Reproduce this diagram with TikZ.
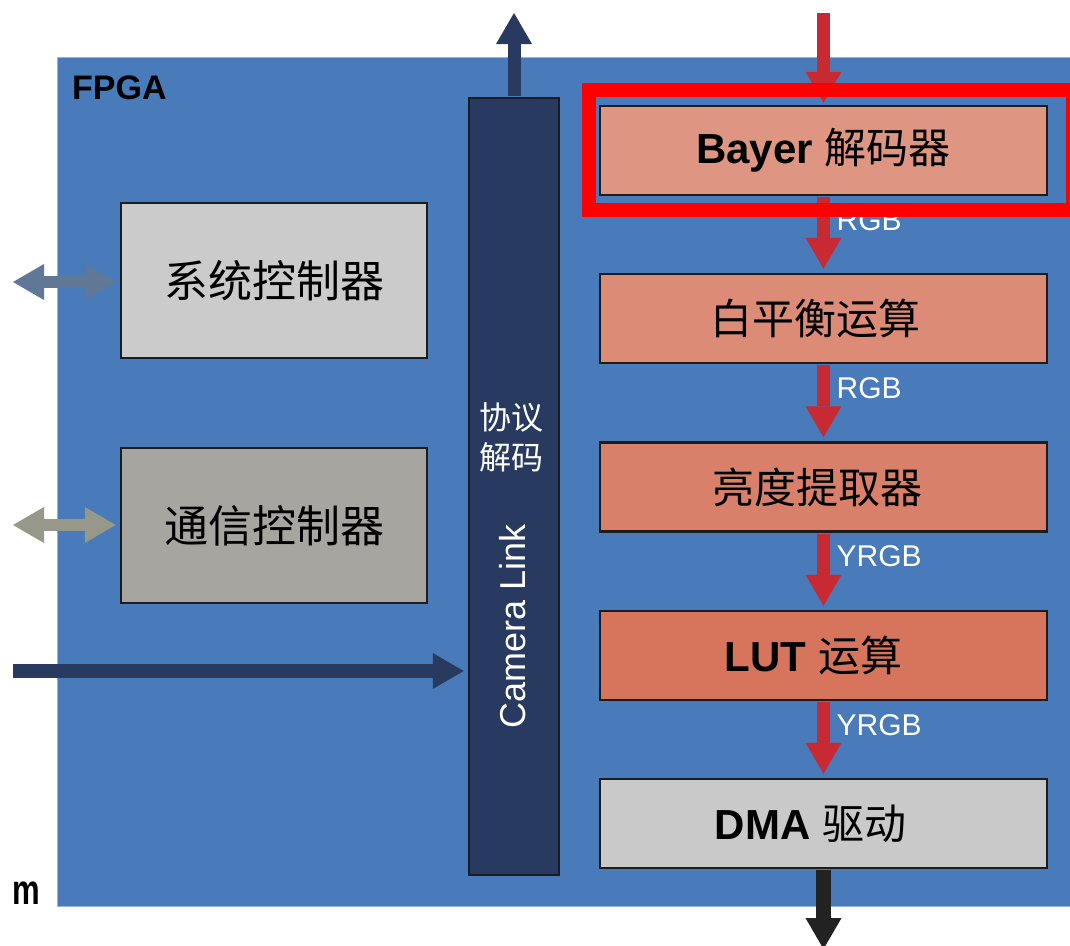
\documentclass[tikz,border=0pt]{standalone}
\usepackage{fontspec}
\setmainfont{Liberation Sans}
\newfontfamily\cjk{Noto Sans CJK SC}
\usetikzlibrary{arrows.meta}

\definecolor{fpgablue}{RGB}{73,122,186}
\definecolor{fpgaedge}{RGB}{150,180,215}
\definecolor{barnavy}{RGB}{40,58,96}
\definecolor{outline}{RGB}{28,28,30}
\definecolor{grayA}{RGB}{203,203,203}
\definecolor{grayB}{RGB}{166,165,160}
\definecolor{dmagray}{RGB}{201,201,201}
\definecolor{stageA}{RGB}{222,150,131}
\definecolor{stageB}{RGB}{220,139,118}
\definecolor{stageC}{RGB}{217,128,106}
\definecolor{stageD}{RGB}{214,116,92}
\definecolor{flowred}{RGB}{200,42,52}
\definecolor{hilite}{RGB}{255,0,0}
\definecolor{linkA}{RGB}{96,119,150}
\definecolor{linkB}{RGB}{151,152,137}
\definecolor{outdark}{RGB}{34,34,34}

\begin{document}
\begin{tikzpicture}[x=1pt,y=-1pt,
  ctrlbox/.style={draw=outline, line width=2.5pt, minimum width=306pt, minimum height=155pt,
    inner sep=0pt, font=\cjk\fontsize{44}{50}\selectfont},
  stagebox/.style={draw=outline, line width=2.5pt, minimum width=447pt, minimum height=89pt,
    inner sep=0pt, font=\fontsize{42}{48}\selectfont},
  blockarrow/.style={line width=13pt,
    -{Triangle[width=36pt,length=31pt,line width=0pt]}},
  twoway/.style={line width=12pt,
    {Triangle[width=36pt,length=31pt,line width=0pt]}-{Triangle[width=36pt,length=31pt,line width=0pt]}},
  flowlabel/.style={anchor=base west, text=white, inner sep=0pt, font=\fontsize{30}{30}\selectfont}
]
\useasboundingbox (0,0) rectangle (1070,945);
\fill[white] (0,0) rectangle (1070,945);

\begin{scope}
\clip (13,13) rectangle (1070,945);

% FPGA region
\fill[fpgablue] (57,57) rectangle (1075,906);
\draw[fpgaedge, line width=1pt] (1075,57) -- (57,57) -- (57,906) -- (1075,906);
\node[anchor=base west, inner sep=0pt, font=\bfseries\fontsize{34}{34}\selectfont] (fpga) at (72,99) {FPGA};

% left-hand controllers
\node[ctrlbox, fill=grayA] (sys) at (274,280.5) {系统控制器};
\node[ctrlbox, fill=grayB] (com) at (274,525.5) {通信控制器};

% protocol decoder bar
\node[draw=outline, line width=2.5pt, fill=barnavy, minimum width=90pt, minimum height=777pt, inner sep=0pt] (bar) at (514,486.5) {};
\node[text=white, align=center, inner sep=0pt, font=\cjk\fontsize{32}{40}\selectfont] (proto) at (511,437) {协议\\解码};
\node[text=white, rotate=90, inner sep=0pt, font=\fontsize{36}{36}\selectfont] (cl) at (513,626) {Camera Link};

% image pipeline
\node[stagebox, fill=stageA] (bayer) at (823.5,150.5) {\textbf{Bayer} {\cjk 解码器}};
\node[stagebox, fill=stageB] (wb)    at (823.5,318.5) {{\cjk 白平衡运算}\kern16pt};
\node[stagebox, fill=stageC] (lum)   at (823.5,487)   {{\cjk 亮度提取器}\kern12pt};
\node[stagebox, fill=stageD] (lut)   at (823.5,655.5) {\textbf{LUT} {\cjk 运算}\kern20pt};
\node[stagebox, fill=dmagray] (dma)  at (823.5,823.5) {\textbf{DMA} {\cjk 驱动}\kern26pt};

% free ends of the external links
\coordinate (rawin)  at (823.5,0);
\coordinate (dmaout) at (823.5,949);
\coordinate (clout)  at (514,13);
\coordinate (sysext) at (13,282);
\coordinate (comext) at (13,525);
\coordinate (camin)  at (0,671);

% pipeline flow
\draw[blockarrow, flowred, shorten >=2pt] (rawin) -- (bayer.north);
\draw[blockarrow, flowred, shorten <=1pt, shorten >=4pt] (bayer.south) -- (wb.north);
\draw[blockarrow, flowred, shorten <=1pt, shorten >=4pt] (wb.south) -- (lum.north);
\draw[blockarrow, flowred, shorten <=1pt, shorten >=4pt] (lum.south) -- (lut.north);
\draw[blockarrow, flowred, shorten <=1pt, shorten >=4pt] (lut.south) -- (dma.north);
\draw[blockarrow, outdark, line width=15pt, shorten <=1pt] (dma.south) -- (dmaout);

\path (bayer.south) ++(13,34) node[flowlabel] (l1) {RGB};
\path (wb.south)    ++(13,34) node[flowlabel] (l2) {RGB};
\path (lum.south)   ++(13,34) node[flowlabel] (l3) {YRGB};
\path (lut.south)   ++(13,34) node[flowlabel] (l4) {YRGB};

% links on the left and top
\draw[blockarrow, barnavy, shorten <=1pt] (bar.north) -- (clout);
\draw[blockarrow, barnavy, line width=14pt, shorten >=4pt] (camin) -- (camin -| bar.west);
\draw[twoway, linkA, shorten >=4pt] (sysext) -- (sysext -| sys.west);
\draw[twoway, linkB, shorten >=4pt] (comext) -- (comext -| com.west);

% highlight frame around the Bayer decoder
\draw[hilite, line width=14pt] (588.5,90) rectangle (1073,210);

\node[anchor=base west, inner sep=0pt, font=\bfseries\fontsize{42}{42}\selectfont] (mark) at (12,904) {\scalebox{0.74}[1]{m}};
\end{scope}
\end{tikzpicture}
\end{document}
